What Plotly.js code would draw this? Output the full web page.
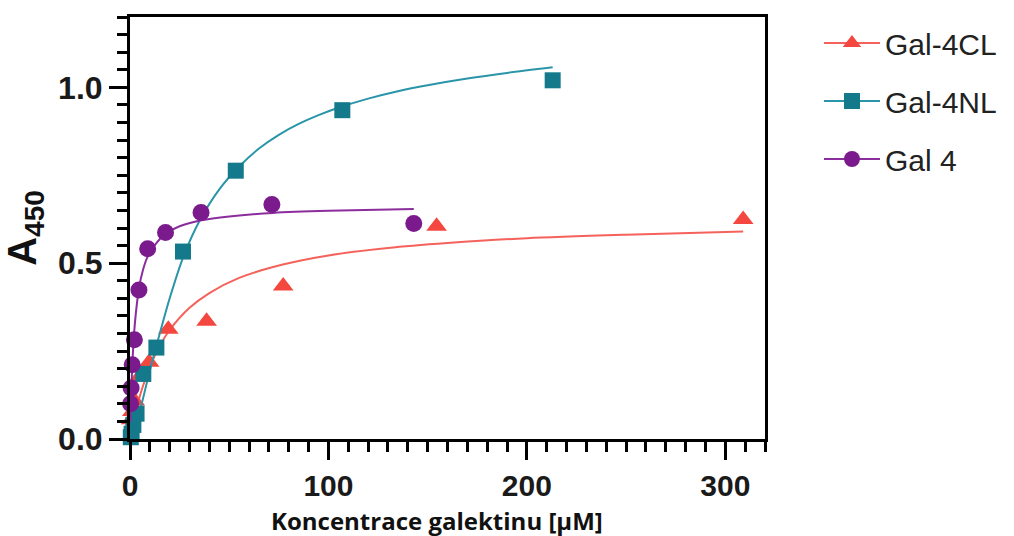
<!DOCTYPE html>
<html><head><meta charset="utf-8">
<script src="https://cdn.plot.ly/plotly-3.0.1.min.js"></script>
<style>html,body{margin:0;padding:0;background:#fff}#chart{width:1014px;height:536px}</style>
</head><body><div id="chart"></div>
<script>
// Series names
const seriesNames = ['Gal-4CL', 'Gal-4NL', 'Gal 4'];

const clX = [309, 154.5, 77.2, 38.6, 19.3, 9.65, 4.8, 2.4, 1.2, 0.6];
const clY = [0.624, 0.605, 0.435, 0.335, 0.312, 0.218, 0.178, 0.108, 0.078, 0.055];
const nlX = [213, 107, 53.3, 26.7, 13.3, 6.7, 3.3, 1.7, 0.8, 0.4];
const nlY = [1.02, 0.935, 0.763, 0.533, 0.26, 0.185, 0.072, 0.04, 0.015, 0.005];
const g4X = [143, 71.5, 35.8, 17.9, 8.9, 4.5, 2.2, 1.1, 0.56, 0.28];
const g4Y = [0.613, 0.667, 0.644, 0.587, 0.541, 0.424, 0.282, 0.211, 0.145, 0.1];

// Fitted curves
const clFitX = [0, 1, 2.5, 5, 10, 15, 20, 30, 40, 55, 77, 100, 130, 160, 200, 250, 309];
const clFitY = [0, 0.03, 0.07, 0.123, 0.205, 0.265, 0.31, 0.373, 0.415, 0.458, 0.496, 0.522, 0.543, 0.557, 0.571, 0.581, 0.59];
const nlFitX = [0, 2, 5, 10, 15, 20, 27, 35, 45, 55, 65, 75, 85, 95, 105, 120, 135, 150, 170, 190, 213];
const nlFitY = [0, 0.025, 0.08, 0.195, 0.3, 0.4, 0.52, 0.62, 0.71, 0.775, 0.826, 0.865, 0.896, 0.921, 0.942, 0.968, 0.989, 1.006, 1.025, 1.041, 1.057];
const g4FitX = [0.2, 0.5, 1, 2, 3, 4.5, 6.5, 9, 13, 18, 25, 36, 50, 72, 100, 143];
const g4FitY = [0.05, 0.11, 0.19, 0.296, 0.36, 0.428, 0.48, 0.52, 0.555, 0.584, 0.605, 0.622, 0.633, 0.643, 0.649, 0.654];

// Axis tick values
const xTicks = [0, 100, 200, 300];
const yTicks = [0.0, 0.5, 1.0];

const red = '#f4473f', redLine = '#f4625b';
const teal = '#13798b', tealLine = '#2a95a8';
const purple = '#7b1a8c', purpleLine = '#8c2d9d';

const sets = [
  {name: seriesNames[0], x: clX, y: clY, fx: clFitX, fy: clFitY, c: red, lc: redLine, sym: 'triangle-up', size: 18},
  {name: seriesNames[1], x: nlX, y: nlY, fx: nlFitX, fy: nlFitY, c: teal, lc: tealLine, sym: 'square', size: 16},
  {name: seriesNames[2], x: g4X, y: g4Y, fx: g4FitX, fy: g4FitY, c: purple, lc: purpleLine, sym: 'circle', size: 17}
];

const traces = [];
sets.forEach((s, i) => {
  traces.push({x: s.fx, y: s.fy, mode: 'lines', line: {color: s.lc, width: 2, shape: 'spline', smoothing: 0.8},
    showlegend: false, hoverinfo: 'skip', cliponaxis: false, legendgroup: 'g' + i});
  traces.push({x: s.x, y: s.y, mode: 'markers', marker: {color: s.c, symbol: s.sym, size: s.size},
    showlegend: false, cliponaxis: false, name: s.name, legendgroup: 'g' + i});
  traces.push({x: [null], y: [null], mode: 'lines+markers', name: s.name, legendgroup: 'g' + i,
    line: {color: s.lc, width: 2}, marker: {color: s.c, symbol: s.sym, size: s.size}});
});

const tickFontY = {family: 'Liberation Sans, Arial, sans-serif', size: 32, color: '#1a1a1a', weight: 'bold'};
const tickFontX = {family: 'Liberation Sans, Arial, sans-serif', size: 30, color: '#1a1a1a', weight: 'bold'};

const layout = {
  width: 1014, height: 536,
  margin: {l: 130, r: 249, t: 17, b: 97},
  paper_bgcolor: '#fff', plot_bgcolor: '#fff',
  showlegend: true,
  legend: {x: 1.085, xanchor: 'left', y: 1.0, yanchor: 'top', traceorder: 'grouped', tracegroupgap: 16, itemwidth: 56,
    font: {family: 'Liberation Sans, Arial, sans-serif', size: 30, color: '#222'}, bgcolor: 'rgba(0,0,0,0)'},
  xaxis: {
    range: [0, 320], tickvals: xTicks, ticktext: xTicks.map(String), ticks: 'outside', ticklen: 18, tickwidth: 3,
    tickcolor: '#000', showline: true, linewidth: 3, linecolor: '#000', mirror: true, showgrid: false, zeroline: false,
    tickfont: tickFontX,
    minor: {dtick: 10, tick0: 0, ticks: 'outside', ticklen: 10, tickwidth: 3, tickcolor: '#000', showgrid: false}
  },
  yaxis: {
    range: [0, 1.2], tickvals: yTicks, ticktext: yTicks.map(v => v.toFixed(1)), ticks: 'outside', ticklen: 18, tickwidth: 3,
    tickcolor: '#000', showline: true, linewidth: 3, linecolor: '#000', mirror: true, showgrid: false, zeroline: false,
    tickfont: tickFontY,
    minor: {dtick: 0.05, tick0: 0, ticks: 'outside', ticklen: 10, tickwidth: 3, tickcolor: '#000', showgrid: false},
    title: {text: 'A<sub>450</sub>', font: {family: 'Liberation Sans, Arial, sans-serif', size: 40, color: '#111', weight: 'bold'}, standoff: 10}
  },
  annotations: [{
    text: 'Koncentrace galektinu [μM]', xref: 'paper', yref: 'paper', x: 0.4835, y: -0.192,
    xanchor: 'center', yanchor: 'middle', showarrow: false,
    font: {family: 'Open Sans, sans-serif', size: 24, color: '#111', weight: 'bold'}
  }]
};

Plotly.newPlot('chart', traces, layout, {staticPlot: true, displayModeBar: false});
</script>
</body></html>
